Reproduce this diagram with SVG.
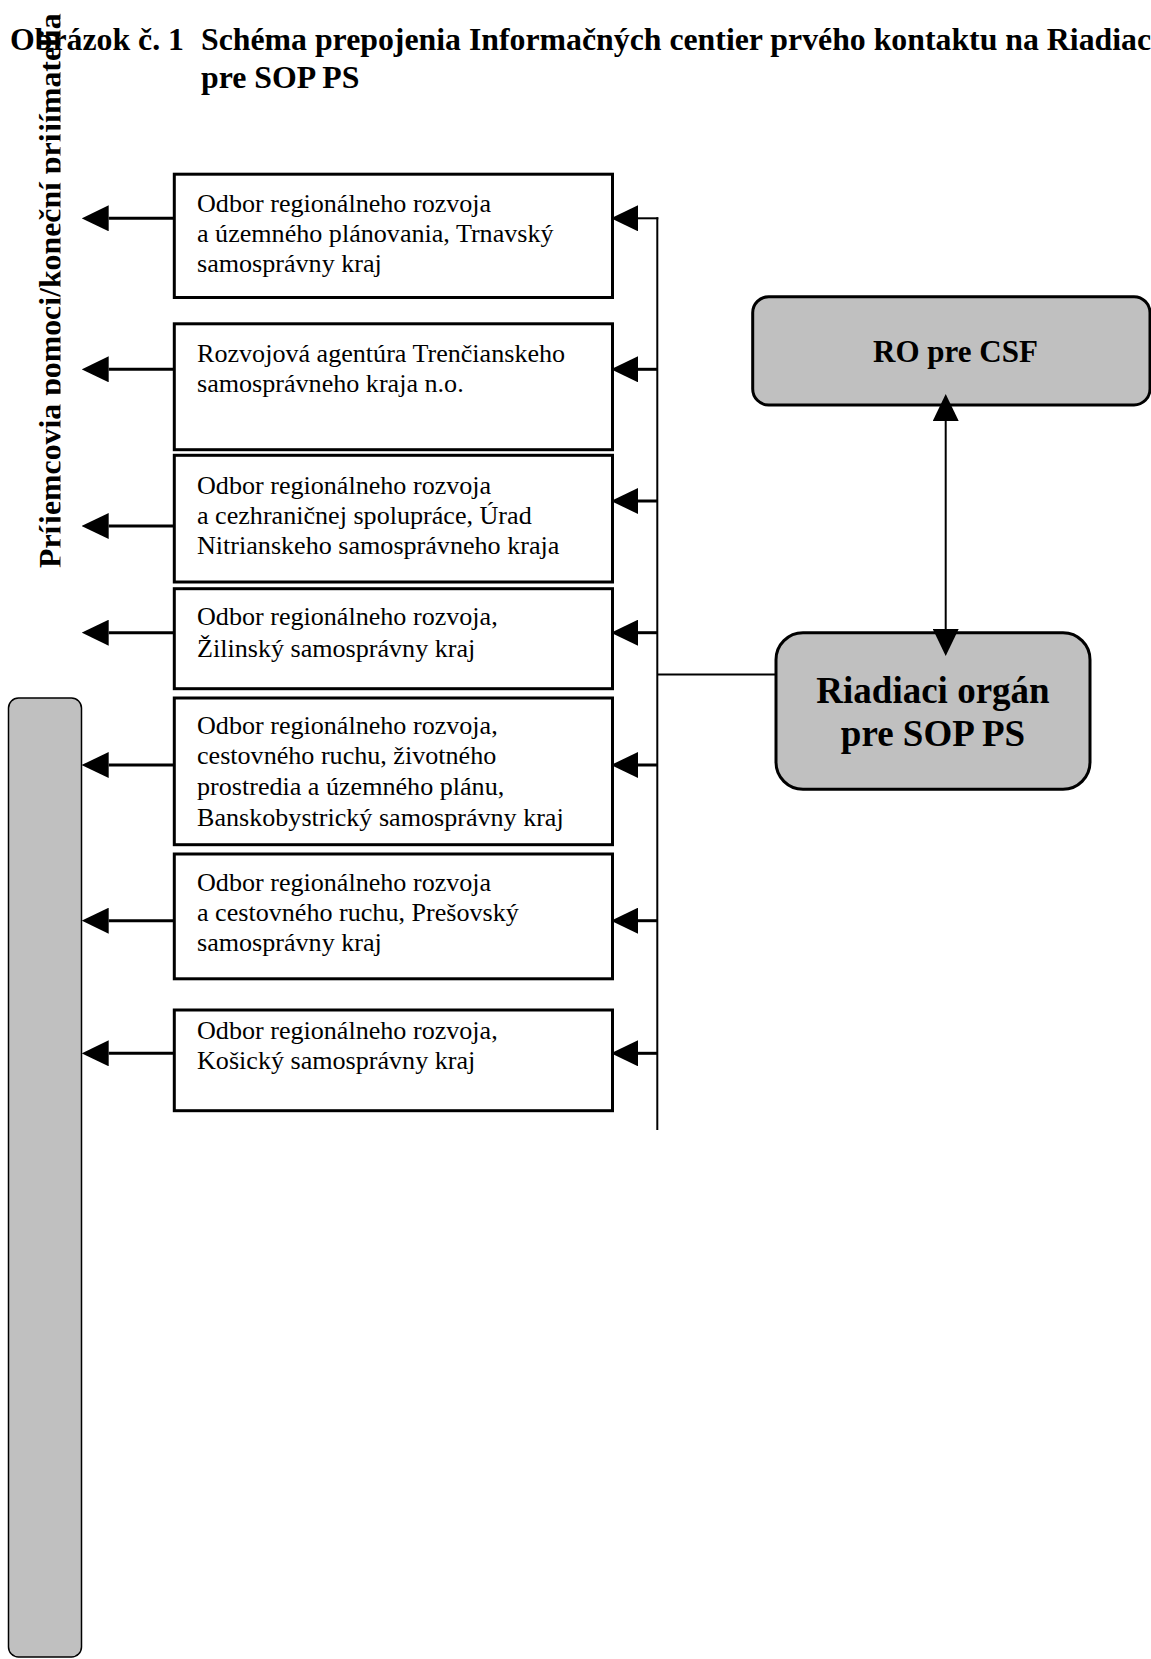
<svg xmlns="http://www.w3.org/2000/svg" width="1151" height="1659" viewBox="0 0 1151 1659">
<style>
.title{font-family:"Liberation Serif","Times New Roman",serif;font-weight:bold;font-size:31.8px;fill:#000}
.vt{font-family:"Liberation Serif","Times New Roman",serif;font-weight:bold;font-size:31.8px;fill:#000}
.bx{fill:#fff;stroke:#000;stroke-width:3}
.gb{fill:#c0c0c0;stroke:#000;stroke-width:3}
.bt{font-family:"Liberation Serif","Times New Roman",serif;font-size:26.1px;fill:#000}
.rt{font-family:"Liberation Serif","Times New Roman",serif;font-weight:bold;fill:#000;text-anchor:middle}
.thick{stroke:#000;stroke-width:3;fill:none}
.thin{stroke:#000;stroke-width:2;fill:none}
</style>
<defs>
<marker id="ah" viewBox="0 0 27 26" refX="0" refY="13" markerWidth="27" markerHeight="26" markerUnits="userSpaceOnUse" orient="auto-start-reverse">
<path d="M0,0 L27,13 L0,26 Z" fill="#000"/>
</marker>
<clipPath id="vclip"><rect x="0" y="0" width="60.5" height="700"/></clipPath>
</defs>
<rect width="1151" height="1659" fill="#fff"/>

<g id="title">
<text class="title" x="10" y="50">Obrázok č. 1</text>
<text class="title" x="201" y="50">Schéma prepojenia Informačných centier prvého kontaktu na Riadiac</text>
<text class="title" x="201" y="87.5">pre SOP PS</text>
</g>

<g id="recipients">
<rect x="8.5" y="698" width="73" height="959" rx="10" fill="#c0c0c0" stroke="#000" stroke-width="1.5"/>
</g>
<g id="recipients-label" clip-path="url(#vclip)">
<text class="vt" transform="translate(61.2,568) rotate(-90)">Príjemcovia pomoci/koneční prijímatelia</text>
</g>

<g id="box1">
<rect class="bx" x="174.3" y="174.2" width="438.2" height="123.3"/>
<text class="bt" x="197" y="211.7">Odbor regionálneho rozvoja</text>
<text class="bt" x="197" y="241.7">a územného plánovania, Trnavský</text>
<text class="bt" x="197" y="271.7">samosprávny kraj</text>
</g>
<g id="box2">
<rect class="bx" x="174.3" y="323.8" width="438.2" height="125.9"/>
<text class="bt" x="197" y="361.7">Rozvojová agentúra Trenčianskeho</text>
<text class="bt" x="197" y="391.7">samosprávneho kraja n.o.</text>
</g>
<g id="box3">
<rect class="bx" x="174.3" y="455.3" width="438.2" height="126.7"/>
<text class="bt" x="197" y="493.5">Odbor regionálneho rozvoja</text>
<text class="bt" x="197" y="523.5">a cezhraničnej spolupráce, Úrad</text>
<text class="bt" x="197" y="553.5">Nitrianskeho samosprávneho kraja</text>
</g>
<g id="box4">
<rect class="bx" x="174.3" y="588.7" width="438.2" height="100"/>
<text class="bt" x="197" y="625">Odbor regionálneho rozvoja,</text>
<text class="bt" x="197" y="656.5">Žilinský samosprávny kraj</text>
</g>
<g id="box5">
<rect class="bx" x="174.3" y="698" width="438.2" height="146.7"/>
<text class="bt" x="197" y="733.5">Odbor regionálneho rozvoja,</text>
<text class="bt" x="197" y="764">cestovného ruchu, životného</text>
<text class="bt" x="197" y="794.5">prostredia a územného plánu,</text>
<text class="bt" x="197" y="825.5">Banskobystrický samosprávny kraj</text>
</g>
<g id="box6">
<rect class="bx" x="174.3" y="854" width="438.2" height="124.8"/>
<text class="bt" x="197" y="890.7">Odbor regionálneho rozvoja</text>
<text class="bt" x="197" y="920.7">a cestovného ruchu, Prešovský</text>
<text class="bt" x="197" y="950.7">samosprávny kraj</text>
</g>
<g id="box7">
<rect class="bx" x="174.3" y="1010" width="438.2" height="100.7"/>
<text class="bt" x="197" y="1039.3">Odbor regionálneho rozvoja,</text>
<text class="bt" x="197" y="1069.3">Košický samosprávny kraj</text>
</g>

<g id="ro-csf">
<rect class="gb" x="752.7" y="296.7" width="397.3" height="108.3" rx="16"/>
<text class="rt" x="955.5" y="361.7" font-size="31">RO pre CSF</text>
</g>
<g id="ro-sop">
<rect class="gb" x="776" y="632.7" width="314" height="156.6" rx="27"/>
<text class="rt" x="933" y="702.7" font-size="37">Riadiaci orgán</text>
<text class="rt" x="933" y="745.5" font-size="37">pre SOP PS</text>
</g>

<g id="connectors">
<line class="thin" x1="657.3" y1="217.3" x2="657.3" y2="1130"/>
<line class="thin" x1="657.3" y1="674.6" x2="776" y2="674.6"/>
<line class="thin" x1="658.3" y1="218.3" x2="638" y2="218.3" marker-end="url(#ah)"/>
<line class="thick" x1="657.3" y1="369.3" x2="638" y2="369.3" marker-end="url(#ah)"/>
<line class="thick" x1="657.3" y1="501" x2="638" y2="501" marker-end="url(#ah)"/>
<line class="thick" x1="657.3" y1="632.7" x2="638" y2="632.7" marker-end="url(#ah)"/>
<line class="thick" x1="657.3" y1="765" x2="638" y2="765" marker-end="url(#ah)"/>
<line class="thick" x1="657.3" y1="920.7" x2="638" y2="920.7" marker-end="url(#ah)"/>
<line class="thick" x1="657.3" y1="1053.3" x2="638" y2="1053.3" marker-end="url(#ah)"/>
<line class="thick" x1="174.3" y1="218.3" x2="108.7" y2="218.3" marker-end="url(#ah)"/>
<line class="thick" x1="174.3" y1="369.3" x2="108.7" y2="369.3" marker-end="url(#ah)"/>
<line class="thick" x1="174.3" y1="526" x2="108.7" y2="526" marker-end="url(#ah)"/>
<line class="thick" x1="174.3" y1="632.7" x2="108.7" y2="632.7" marker-end="url(#ah)"/>
<line class="thick" x1="174.3" y1="765" x2="108.7" y2="765" marker-end="url(#ah)"/>
<line class="thick" x1="174.3" y1="920.7" x2="108.7" y2="920.7" marker-end="url(#ah)"/>
<line class="thick" x1="174.3" y1="1053.3" x2="108.7" y2="1053.3" marker-end="url(#ah)"/>
<line class="thin" x1="945.7" y1="421" x2="945.7" y2="629" marker-start="url(#ah)" marker-end="url(#ah)"/>
</g>
</svg>
